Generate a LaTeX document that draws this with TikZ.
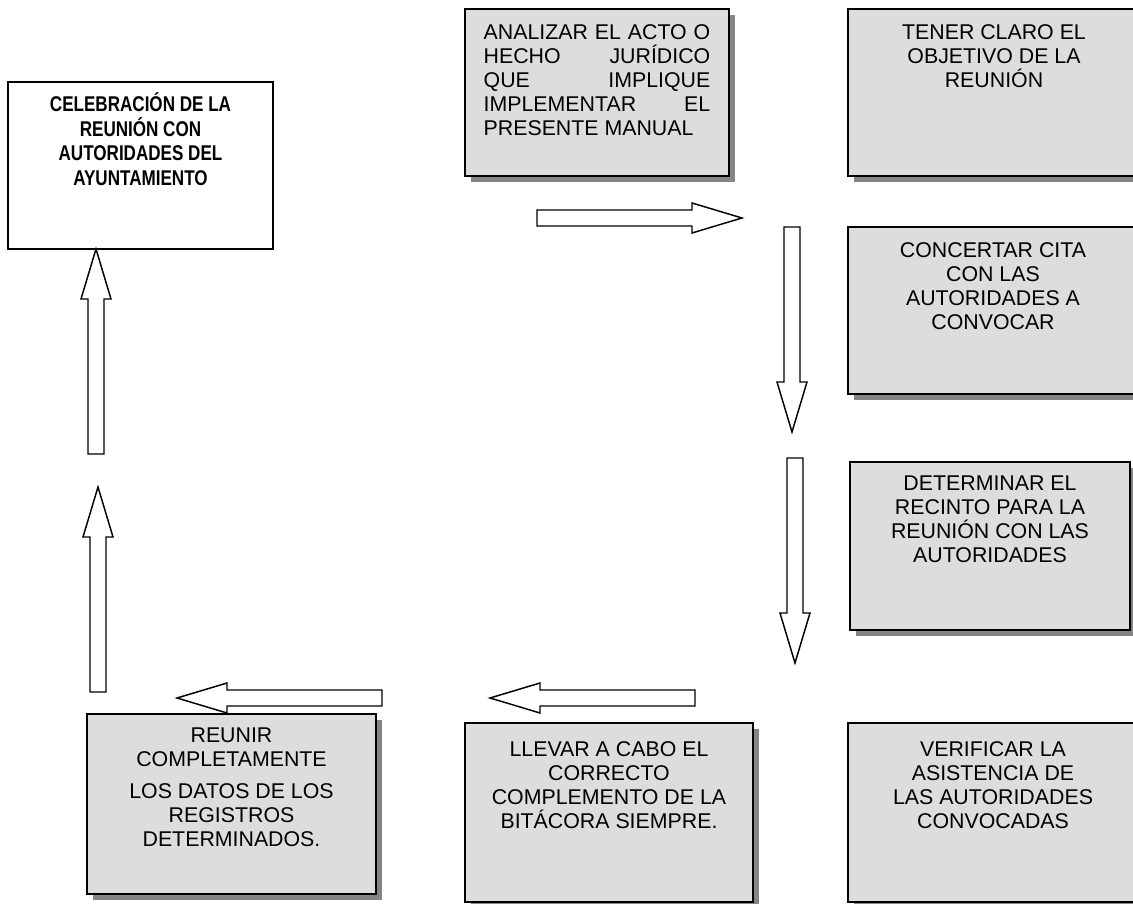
\documentclass[tikz,border=0pt]{standalone}
\usepackage{fontspec}
\setmainfont{Liberation Sans}
\newfontfamily\narrowfont[FakeStretch=0.8]{Liberation Sans}
\usetikzlibrary{shadows}
\definecolor{cajagris}{HTML}{DDDDDD}
\definecolor{sombra}{HTML}{858585}
% block arrow: tail coordinate, direction
\newcommand{\flecha}[2]{\draw[bloque, shift={(#1)}, rotate=#2] (0,-8) -- (155,-8) -- (155,-15) -- (205,0) -- (155,15) -- (155,8) -- (0,8) -- cycle;}
\begin{document}
\begin{tikzpicture}[x=0.75pt, y=-0.75pt,
  caja/.style={draw, line width=1.5pt, fill=cajagris, inner sep=0pt, drop shadow={shadow xshift=4.5pt, shadow yshift=-4.5pt, fill=sombra, opacity=1}},
  texto/.style={inner sep=0pt, anchor=north, align=center, font=\fontsize{16pt}{18pt}\selectfont},
  bloque/.style={draw, line width=1.1pt, fill=white, line join=miter}]

  \fill[white] (0,0) rectangle (1133,904);
  \path[use as bounding box, clip] (0,0) rectangle (1133,904);

  % Boxes
  \node[draw, line width=1.5pt, fill=white, minimum width=198.75pt, minimum height=125.25pt] (celebracion) at (140.5,165.5) {};
  \node[caja, minimum width=198pt, minimum height=125.25pt] (analizar) at (597,92.5) {};
  \node[caja, minimum width=219pt, minimum height=125.25pt] (tener) at (994,92.5) {};
  \node[caja, minimum width=217.5pt, minimum height=125.25pt] (concertar) at (993,310.5) {};
  \node[caja, minimum width=210pt, minimum height=126pt] (determinar) at (990,546) {};
  \node[caja, minimum width=217.5pt, minimum height=134.25pt] (verificar) at (993,812.5) {};
  \node[caja, minimum width=216pt, minimum height=134.25pt] (llevar) at (609,812.5) {};
  \node[caja, minimum width=216.75pt, minimum height=135pt] (reunir) at (231.5,804) {};

  % Texts
  \node[texto, font=\narrowfont\bfseries\fontsize{16pt}{18.5pt}\selectfont] (celebracionT) at ([yshift=-8.5pt]celebracion.north) {CELEBRACIÓN DE LA\\REUNIÓN CON\\AUTORIDADES DEL\\AYUNTAMIENTO};
  \node[texto, align=justify, text width=170pt] (analizarT) at ([yshift=-12pt]analizar.north) {ANALIZAR EL ACTO O\linebreak HECHO JURÍDICO\linebreak QUE IMPLIQUE\linebreak IMPLEMENTAR EL\linebreak PRESENTE MANUAL};
  \node[texto] (tenerT) at ([yshift=-12pt]tener.north) {TENER CLARO EL\\OBJETIVO DE LA\\REUNIÓN};
  \node[texto] (concertarT) at ([yshift=-12pt]concertar.north) {CONCERTAR CITA\\CON LAS\\AUTORIDADES A\\CONVOCAR};
  \node[texto] (determinarT) at ([yshift=-11.25pt]determinar.north) {DETERMINAR EL\\RECINTO PARA LA\\REUNIÓN CON LAS\\AUTORIDADES};
  \node[texto] (verificarT) at ([yshift=-14.25pt]verificar.north) {VERIFICAR LA\\ASISTENCIA DE\\LAS AUTORIDADES\\CONVOCADAS};
  \node[texto] (llevarT) at ([yshift=-14.25pt]llevar.north) {LLEVAR A CABO EL\\CORRECTO\\COMPLEMENTO DE LA\\BITÁCORA SIEMPRE.};
  \node[texto] (reunirT) at ([yshift=-11.25pt]reunir.north) {REUNIR\\COMPLETAMENTE\\[6pt]LOS DATOS DE LOS\\REGISTROS\\DETERMINADOS.};

  % Arrow tails
  \coordinate (f1) at (537,218);
  \coordinate (f2) at (792,227);
  \coordinate (f3) at (795,458);
  \coordinate (f4) at (695,698);
  \coordinate (f5) at (382,698);
  \coordinate (f6) at (98,692);
  \coordinate (f7) at (96,454);

  % Block arrows
  \flecha{f1}{0}
  \flecha{f2}{-90}
  \flecha{f3}{-90}
  \flecha{f4}{180}
  \flecha{f5}{180}
  \flecha{f6}{90}
  \flecha{f7}{90}

\end{tikzpicture}
\end{document}
